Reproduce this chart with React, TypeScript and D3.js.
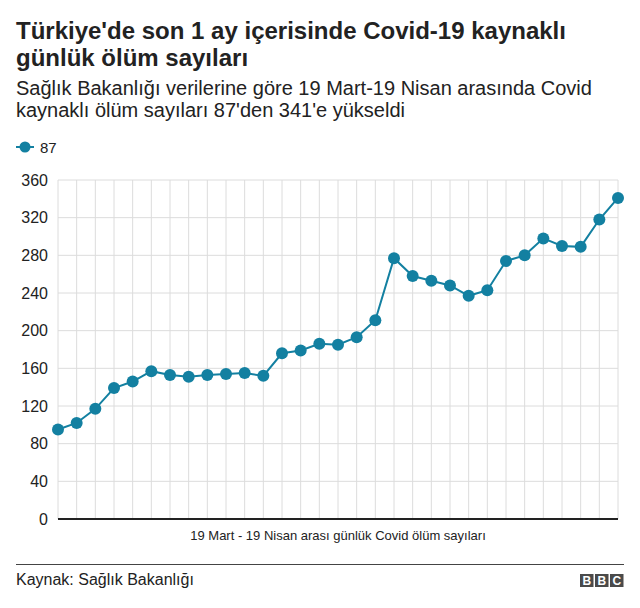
import { useEffect, useRef } from 'react';
import * as d3 from 'd3';

// daily deaths, 19 Mar - 19 Apr
const days = d3.range(1, 32);
const deaths = [95, 102, 117, 139, 146, 157, 153, 151, 153, 154, 155, 152, 176, 179, 186, 185,
  193, 211, 277, 258, 253, 248, 237, 243, 274, 280, 298, 290, 289, 318, 341];
const yTicks = [0, 40, 80, 120, 160, 200, 240, 280, 320, 360];

const title = ["Türkiye'de son 1 ay içerisinde Covid-19 kaynaklı", 'günlük ölüm sayıları'];
const subtitle = ['Sağlık Bakanlığı verilerine göre 19 Mart-19 Nisan arasında Covid', "kaynaklı ölüm sayıları 87'den 341'e yükseldi"];
const legendLabel = '87';
const xTitle = '19 Mart - 19 Nisan arası günlük Covid ölüm sayıları';
const source = 'Kaynak: Sağlık Bakanlığı';

const App = () => {
  const svgRef = useRef<SVGSVGElement | null>(null);

  useEffect(() => {
    const width = 640;
    const height = 608;
    const margin = { top: 180, right: 20, bottom: 89, left: 58 };
    const color = '#1380A1';
    const font = '"Liberation Sans", Arial, sans-serif';

    const svg = d3.select(svgRef.current)
      .attr('width', width)
      .attr('height', height)
      .style('font-family', font);
    svg.selectAll('*').remove();

    svg.append('rect').attr('width', width).attr('height', height).attr('fill', '#fff');

    svg.selectAll('.title')
      .data(title)
      .enter().append('text')
      .attr('x', 16)
      .attr('y', (d, i) => 39 + i * 27)
      .attr('font-size', 24)
      .attr('font-weight', 'bold')
      .attr('fill', '#222')
      .text(d => d);

    svg.selectAll('.sub')
      .data(subtitle)
      .enter().append('text')
      .attr('x', 16)
      .attr('y', (d, i) => 95 + i * 22)
      .attr('font-size', 20)
      .attr('fill', '#222')
      .text(d => d);

    // legend
    const lg = svg.append('g').attr('transform', 'translate(16,147)');
    lg.append('line').attr('x1', 0).attr('x2', 18).attr('stroke', color).attr('stroke-width', 2);
    lg.append('circle').attr('cx', 9).attr('r', 5.5).attr('fill', color);
    lg.append('text').attr('x', 24).attr('y', 5.5).attr('font-size', 15).attr('fill', '#222').text(legendLabel);

    const x = d3.scaleLinear()
      .domain([1, 31])
      .range([margin.left, width - margin.right - 2]);
    const y = d3.scaleLinear()
      .domain([0, 360])
      .range([height - margin.bottom, margin.top]);

    const grid = svg.append('g');
    grid.selectAll('.vg')
      .data(days)
      .enter().append('line')
      .attr('x1', d => x(d)).attr('x2', d => x(d))
      .attr('y1', y(360)).attr('y2', y(0))
      .attr('stroke', '#dcdcdc').attr('stroke-width', 1);
    grid.selectAll('.hg')
      .data(yTicks)
      .enter().append('line')
      .attr('x1', x(1)).attr('x2', x(31))
      .attr('y1', d => y(d)).attr('y2', d => y(d))
      .attr('stroke', '#dcdcdc').attr('stroke-width', 1);

    svg.append('g')
      .attr('transform', `translate(${x(1)},0)`)
      .call(d3.axisLeft(y).tickValues(yTicks).tickSize(0).tickPadding(10))
      .call(g => g.select('.domain').remove())
      .call(g => g.selectAll('text')
        .attr('font-size', 16)
        .attr('font-family', font)
        .attr('fill', '#222'));

    svg.append('line')
      .attr('x1', x(1)).attr('x2', x(31))
      .attr('y1', y(0)).attr('y2', y(0))
      .attr('stroke', '#222').attr('stroke-width', 2);

    const line = d3.line<number>()
      .x((d, i) => x(days[i]))
      .y(d => y(d));

    svg.append('path')
      .datum(deaths)
      .attr('fill', 'none')
      .attr('stroke', color)
      .attr('stroke-width', 2)
      .attr('d', line);

    svg.selectAll('.dot')
      .data(deaths)
      .enter().append('circle')
      .attr('cx', (d, i) => x(days[i]))
      .attr('cy', d => y(d))
      .attr('r', 6)
      .attr('fill', color);

    svg.append('text')
      .attr('x', (x(1) + x(31)) / 2)
      .attr('y', 540)
      .attr('text-anchor', 'middle')
      .attr('font-size', 13)
      .attr('fill', '#222')
      .text(xTitle);

    svg.append('line')
      .attr('x1', 16).attr('x2', 624)
      .attr('y1', 564.5).attr('y2', 564.5)
      .attr('stroke', '#444').attr('stroke-width', 1);

    svg.append('text')
      .attr('x', 16)
      .attr('y', 585)
      .attr('font-size', 16)
      .attr('fill', '#222')
      .text(source);

    const bbc = svg.append('g').attr('transform', 'translate(580,574)');
    ['B', 'B', 'C'].forEach((ch, i) => {
      bbc.append('rect').attr('x', i * 15).attr('width', 13.5).attr('height', 13).attr('fill', '#4a4a4a');
      bbc.append('text')
        .attr('x', i * 15 + 6.75).attr('y', 11)
        .attr('text-anchor', 'middle')
        .attr('font-size', 12).attr('font-weight', 'bold')
        .attr('fill', '#fff').text(ch);
    });
  }, []);

  return (
    <div style={{ margin: -8 }}>
      <svg ref={svgRef}></svg>
    </div>
  );
};

export default App;
